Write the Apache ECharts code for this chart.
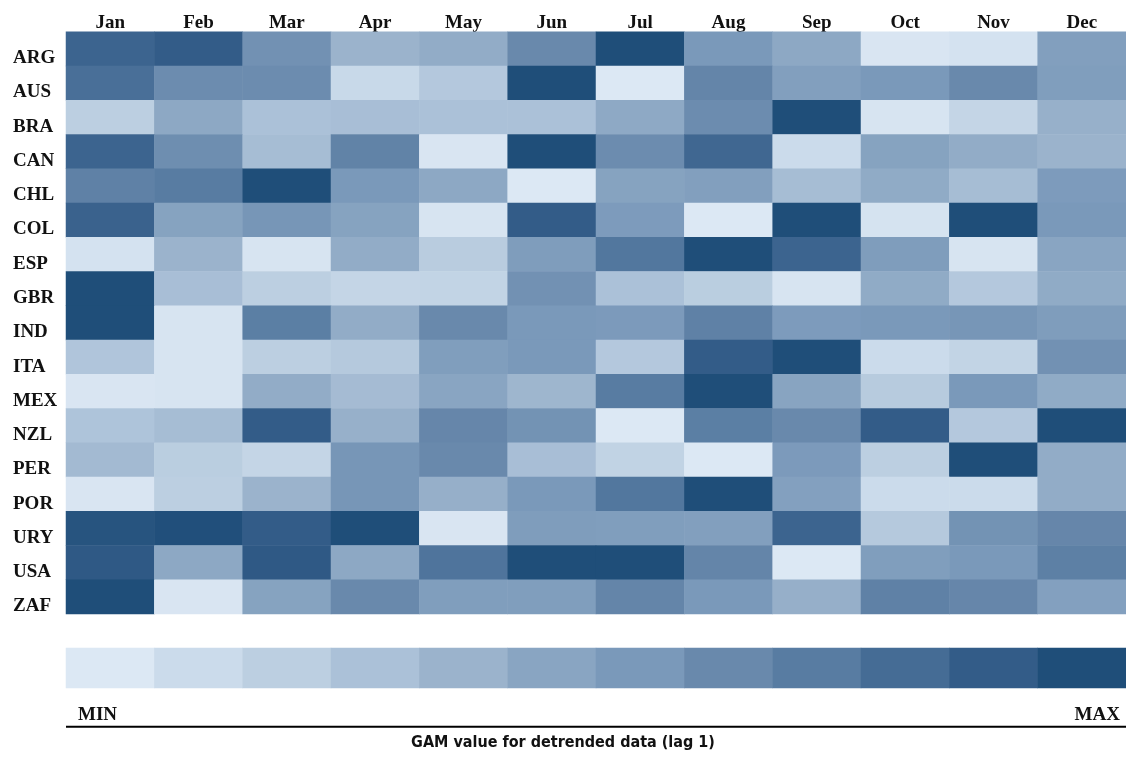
<!DOCTYPE html>
<html>
<head>
<meta charset="utf-8">
<script src="https://cdn.jsdelivr.net/npm/echarts@6/dist/echarts.min.js"></script>
<style>
  html, body { margin: 0; padding: 0; background: #ffffff; }
  #chart { width: 1126px; height: 758px; }
</style>
</head>
<body>
<div id="chart"></div>
<script>
// Months (columns) and countries (rows)
const months = ['Jan', 'Feb', 'Mar', 'Apr', 'May', 'Jun', 'Jul', 'Aug', 'Sep', 'Oct', 'Nov', 'Dec'];
const countries = ['ARG', 'AUS', 'BRA', 'CAN', 'CHL', 'COL', 'ESP', 'GBR', 'IND', 'ITA', 'MEX', 'NZL', 'PER', 'POR', 'URY', 'USA', 'ZAF'];

// Relative GAM value per country and month (0 = row minimum, 11 = row maximum)
const ARG = [9.5, 10, 6.5, 4, 4.5, 7, 11, 6, 4.8, 0.2, 0.5, 5.5];
const AUS = [8.8, 6.8, 6.8, 1.2, 2.5, 11, 0, 7.3, 5.5, 6, 7, 5.6];
const BRA = [2, 4.8, 3, 3.2, 3, 3, 4.7, 6.8, 11, 0.3, 1.5, 4.2];
const CAN = [9.5, 6.7, 3.3, 7.5, 0.2, 11, 6.8, 9.3, 1, 5.2, 4.5, 4];
const CHL = [7.6, 8, 11, 6, 4.8, 0, 5.2, 5.5, 3.3, 4.6, 3.3, 5.8];
const COL = [9.6, 5.2, 6.2, 5.2, 0.3, 10, 5.8, 0, 11, 0.4, 11, 6];
const ESP = [0.5, 4, 0.3, 4.5, 2.2, 5.7, 8.3, 11, 9.5, 5.7, 0.3, 5];
const GBR = [11, 3.2, 2, 1.5, 1.6, 6.5, 3, 2.1, 0.3, 4.6, 2.5, 4.6];
const IND = [11, 0.3, 7.8, 4.5, 7, 6, 5.9, 7.6, 5.8, 6, 6.2, 5.7];
const ITA = [2.7, 0.3, 2, 2.4, 5.6, 6, 2.5, 10, 11, 1, 1.6, 6.5];
const MEX = [0.2, 0.3, 4.5, 3.4, 5, 3.8, 8, 11, 5.1, 2.3, 6, 4.6];
const NZL = [2.8, 3.3, 10, 4.2, 7.2, 6.4, 0, 7.8, 7, 10, 2.5, 11];
const PER = [3.5, 2.1, 1.5, 6.2, 7, 3.2, 1.7, 0, 5.9, 2, 11, 4.5];
const POR = [0.2, 2, 4, 6.2, 4.3, 6, 8.3, 11, 5.4, 1, 1, 4.5];
const URY = [10.6, 10.9, 10, 11, 0.2, 5.7, 5.6, 5.5, 9.5, 2.4, 6.4, 7.2];
const USA = [10.2, 4.8, 10.2, 4.8, 8.5, 11, 11, 7.3, 0, 5.6, 6, 7.7];
const ZAF = [11, 0.2, 5.2, 7, 5.6, 5.6, 7.3, 6, 4.3, 7.6, 7.2, 5.4];

// Colour key steps, from MIN to MAX
const keySteps = [0, 1, 2, 3, 4, 5, 6, 7, 8, 9, 10, 11];
const palette = ['#dce8f4', '#cbdbeb', '#bccfe1', '#abc1d8', '#9bb3cc', '#89a5c2',
                 '#7a99ba', '#6989ac', '#587ca2', '#456c95', '#335c88', '#1f4e79'];

const rows = [ARG, AUS, BRA, CAN, CHL, COL, ESP, GBR, IND, ITA, MEX, NZL, PER, POR, URY, USA, ZAF];
const cells = [];
rows.forEach((row, r) => row.forEach((v, c) => cells.push([c, r, v])));
const keyCells = keySteps.map((v, i) => [i, 0, v]);

const serif = '"Liberation Serif", "Times New Roman", serif';
const colW = 88.9;

const chart = echarts.init(document.getElementById('chart'), null, { renderer: 'canvas' });
chart.setOption({
  backgroundColor: '#ffffff',
  animation: false,
  grid: [
    { left: 66, top: 31.7, width: colW * 12, height: 582.3 },
    { left: 66, top: 31.7, width: 1085, height: 582.3 },
    { left: 66, top: 648, width: colW * 12, height: 40 }
  ],
  xAxis: [
    { type: 'category', data: months, gridIndex: 0, show: false },
    {
      type: 'category', data: months, gridIndex: 1, position: 'top',
      axisLine: { show: false }, axisTick: { show: false }, splitLine: { show: false },
      axisLabel: { color: '#111', fontFamily: serif, fontWeight: 'bold', fontSize: 19, margin: -1 }
    },
    { type: 'category', data: months, gridIndex: 2, show: false }
  ],
  yAxis: [
    {
      type: 'category', data: countries, gridIndex: 0, inverse: true,
      axisLine: { show: false }, axisTick: { show: false }, splitLine: { show: false },
      axisLabel: {
        color: '#111', fontFamily: serif, fontWeight: 'bold', fontSize: 19,
        align: 'left', verticalAlign: 'top', margin: 53
      }
    },
    { type: 'category', data: countries, gridIndex: 1, inverse: true, show: false },
    { type: 'category', data: ['key'], gridIndex: 2, show: false }
  ],
  visualMap: {
    show: false, min: 0, max: 11, seriesIndex: [0, 1],
    inRange: { color: palette }
  },
  series: [
    {
      type: 'heatmap', xAxisIndex: 0, yAxisIndex: 0, data: cells,
      itemStyle: { borderWidth: 0 }, emphasis: { disabled: true }
    },
    {
      type: 'heatmap', xAxisIndex: 2, yAxisIndex: 2, data: keyCells,
      itemStyle: { borderWidth: 0 }, emphasis: { disabled: true }
    }
  ],
  graphic: [
    {
      type: 'text', left: 78, top: 706,
      style: { text: 'MIN', fill: '#111', font: 'bold 19px ' + serif }
    },
    {
      type: 'text', right: 6, top: 706,
      style: { text: 'MAX', fill: '#111', font: 'bold 19px ' + serif }
    },
    {
      type: 'line', shape: { x1: 66, y1: 726.7, x2: 1126, y2: 726.7 },
      style: { stroke: '#000', lineWidth: 2 }
    },
    {
      type: 'text', left: 'center', top: 735,
      style: {
        text: 'GAM value for detrended data (lag 1)', fill: '#111',
        font: 'bold 16px "Liberation Sans Narrow", "DejaVu Sans Condensed", "Noto Sans", sans-serif'
      }
    }
  ]
});
</script>
</body>
</html>
